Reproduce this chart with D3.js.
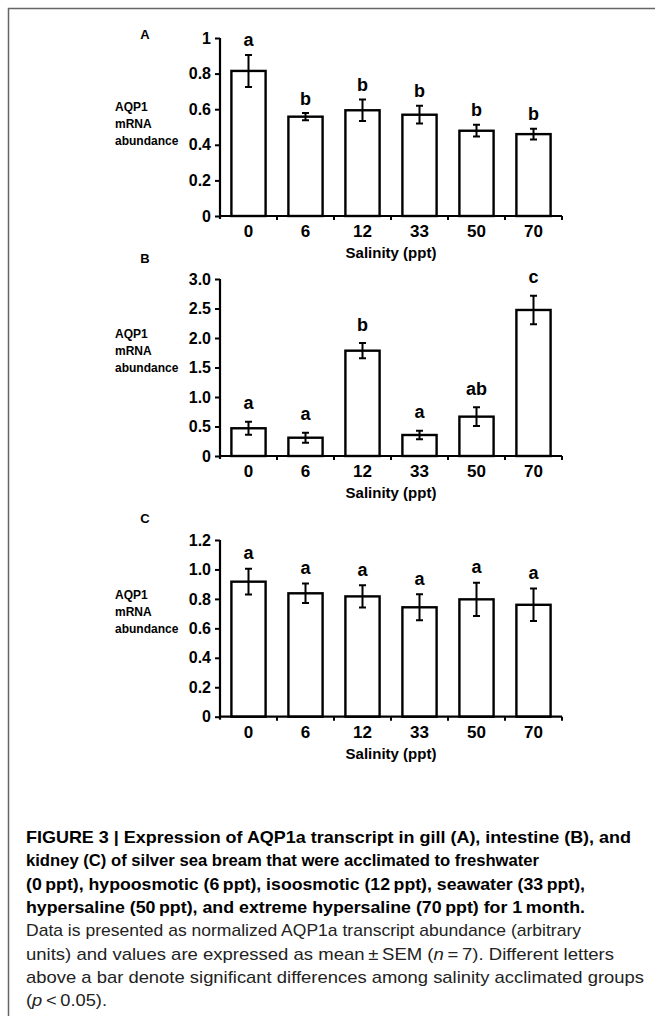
<!DOCTYPE html>
<html>
<head>
<meta charset="utf-8">
<script src="https://cdn.jsdelivr.net/npm/d3@7"></script>
<style>
  html, body { margin: 0; padding: 0; background: #fff; }
</style>
</head>
<body>
<div id="chart-container"></div>
<script>
// Salinity groups (ppt)
const salinity = ["0", "6", "12", "33", "50", "70"];

// Panel A - gill
const gillMean = [0.815, 0.558, 0.594, 0.569, 0.479, 0.46];
const gillSem = [0.09, 0.02, 0.06, 0.05, 0.033, 0.03];
const gillLetters = ["a", "b", "b", "b", "b", "b"];
const gillTicks = [0, 0.2, 0.4, 0.6, 0.8, 1];
const gillTickLabels = ["0", "0.2", "0.4", "0.6", "0.8", "1"];

// Panel B - intestine
const intestineMean = [0.47, 0.31, 1.785, 0.356, 0.667, 2.475];
const intestineSem = [0.11, 0.085, 0.13, 0.07, 0.16, 0.24];
const intestineLetters = ["a", "a", "b", "a", "ab", "c"];
const intestineTicks = [0, 0.5, 1, 1.5, 2, 2.5, 3];
const intestineTickLabels = ["0", "0.5", "1.0", "1.5", "2.0", "2.5", "3.0"];

// Panel C - kidney
const kidneyMean = [0.917, 0.838, 0.817, 0.743, 0.797, 0.76];
const kidneySem = [0.087, 0.066, 0.075, 0.088, 0.113, 0.11];
const kidneyLetters = ["a", "a", "a", "a", "a", "a"];
const kidneyTicks = [0, 0.2, 0.4, 0.6, 0.8, 1.0, 1.2];
const kidneyTickLabels = ["0", "0.2", "0.4", "0.6", "0.8", "1.0", "1.2"];

const yLabelLines = ["AQP1", "mRNA", "abundance"];

const captionLines = [
    { text: "FIGURE 3 | Expression of AQP1a transcript in gill (A), intestine (B), and", bold: true, w: 605 },
    { text: "kidney (C) of silver sea bream that were acclimated to freshwater", bold: true, w: 513 },
    { text: "(0\u2009ppt), hypoosmotic (6\u2009ppt), isoosmotic (12\u2009ppt), seawater (33\u2009ppt),", bold: true, w: 559 },
    { text: "hypersaline (50\u2009ppt), and extreme hypersaline (70\u2009ppt) for 1\u2009month.", bold: true, w: 559 },
    { text: "Data is presented as normalized AQP1a transcript abundance (arbitrary", bold: false, w: 555 },
    { parts: [["units) and values are expressed as mean\u2009\u00b1\u2009SEM (", false], ["n", true], ["\u2009=\u20097). Different letters", false]], bold: false, w: 588 },
    { text: "above a bar denote significant differences among salinity acclimated groups", bold: false, w: 618 },
    { parts: [["(", false], ["p", true], ["\u2009<\u20090.05).", false]], bold: false, w: 81 }
];

const W = 655, H = 1016;
const font = "'Liberation Sans', Arial, sans-serif";

const svg = d3.select("#chart-container")
    .append("svg")
    .attr("width", W)
    .attr("height", H)
    .style("font-family", font);

svg.append("rect").attr("width", W).attr("height", H).attr("fill", "#fff");

// khung viền trái + trên
svg.append("path")
    .attr("d", `M8.5,${H} V8.5 H${W}`)
    .attr("fill", "none")
    .attr("stroke", "#666")
    .attr("stroke-width", 1.5);

// Band scale dùng chung cho 3 panel
const x = d3.scaleBand()
    .domain(salinity)
    .range([220, 562])
    .paddingInner(0.4)
    .paddingOuter(0.2);

const panels = [
    { label: "A", mean: gillMean, sem: gillSem, letters: gillLetters, ticks: gillTicks, tickLabels: gillTickLabels,
      max: 1, y0: 216, y1: 38, labelY: 124, letterGap: 8.5, tagY: 39 },
    { label: "B", mean: intestineMean, sem: intestineSem, letters: intestineLetters, ticks: intestineTicks, tickLabels: intestineTickLabels,
      max: 3, y0: 456, y1: 279, labelY: 351, letterGap: 12.5, tagY: 263 },
    { label: "C", mean: kidneyMean, sem: kidneySem, letters: kidneyLetters, ticks: kidneyTicks, tickLabels: kidneyTickLabels,
      max: 1.2, y0: 716.7, y1: 540, labelY: 612, letterGap: 9.5, tagY: 523 }
];

panels.forEach(p => {
    const y = d3.scaleLinear().domain([0, p.max]).range([p.y0, p.y1]);
    const g = svg.append("g");
    const rows = salinity.map((s, i) => ({ s, m: p.mean[i], e: p.sem[i], l: p.letters[i] }));

    // Bars
    g.selectAll("rect.bar")
        .data(rows)
        .join("rect")
        .attr("class", "bar")
        .attr("x", d => x(d.s))
        .attr("y", d => y(d.m))
        .attr("width", x.bandwidth())
        .attr("height", d => y(0) - y(d.m))
        .attr("fill", "#fff")
        .attr("stroke", "#000")
        .attr("stroke-width", 2.4);

    // Error bars
    const cx = d => x(d.s) + x.bandwidth() / 2;
    g.selectAll("path.err")
        .data(rows)
        .join("path")
        .attr("class", "err")
        .attr("d", d => {
            const t = y(d.m + d.e), b = y(d.m - d.e), c = cx(d);
            return `M${c},${t}V${b}M${c - 3.5},${t}H${c + 3.5}M${c - 3.5},${b}H${c + 3.5}`;
        })
        .attr("fill", "none")
        .attr("stroke", "#000")
        .attr("stroke-width", 2);

    // Significance letters
    g.selectAll("text.sig")
        .data(rows)
        .join("text")
        .attr("class", "sig")
        .attr("x", cx)
        .attr("y", d => y(d.m + d.e) - p.letterGap)
        .attr("text-anchor", "middle")
        .style("font-size", "18px")
        .style("font-weight", "bold")
        .text(d => d.l);

    // Trục y
    const yAxis = g.append("g")
        .attr("transform", "translate(220,0)")
        .call(d3.axisLeft(y)
            .tickValues(p.ticks)
            .tickFormat((d, i) => p.tickLabels[i])
            .tickSize(5)
            .tickSizeOuter(0)
            .tickPadding(4));
    yAxis.select(".domain").attr("stroke-width", 2.2).attr("d", `M0,${p.y0 + 3}V${p.y1}`);
    yAxis.selectAll(".tick line").attr("stroke-width", 2);
    yAxis.selectAll(".tick text")
        .style("font-size", "16px")
        .style("font-weight", "bold")
        .attr("fill", "#000");

    // Trục x
    const xAxis = g.append("g")
        .attr("transform", `translate(0,${p.y0})`)
        .call(d3.axisBottom(x).tickSize(0).tickSizeOuter(0).tickPadding(6));
    xAxis.select(".domain").attr("stroke-width", 2.2).attr("d", "M220,0H562");
    xAxis.selectAll(".tick text")
        .attr("dy", "1em")
        .attr("y", 4)
        .style("font-size", "17px")
        .style("font-weight", "bold")
        .attr("fill", "#000");

    // tick giữa các cột
    g.selectAll("line.sep")
        .data(salinity)
        .join("line")
        .attr("class", "sep")
        .attr("x1", d => x(d) + x.bandwidth() + x.step() * x.paddingInner() / 2)
        .attr("x2", d => x(d) + x.bandwidth() + x.step() * x.paddingInner() / 2)
        .attr("y1", p.y0)
        .attr("y2", p.y0 + 4)
        .attr("stroke", "#000")
        .attr("stroke-width", 2);

    // Tiêu đề trục x
    g.append("text")
        .attr("x", 391)
        .attr("y", p.y0 + 42)
        .attr("text-anchor", "middle")
        .style("font-size", "15px")
        .style("font-weight", "bold")
        .text("Salinity (ppt)");

    // Nhãn trục y
    g.append("text")
        .attr("x", 115)
        .attr("y", p.labelY + 4)
        .style("font-size", "12px")
        .style("font-weight", "bold")
        .selectAll("tspan")
        .data(yLabelLines)
        .join("tspan")
        .attr("x", 115)
        .attr("dy", (d, i) => i === 0 ? -17 : 17)
        .text(d => d);

    // Panel tag
    g.append("text")
        .attr("x", 145)
        .attr("y", p.tagY)
        .attr("text-anchor", "middle")
        .style("font-size", "13px")
        .style("font-weight", "bold")
        .text(p.label);
});

// Chú thích hình
const capFont = "'Liberation Sans Narrow', 'Arial Narrow', 'Liberation Sans', Arial, sans-serif";
captionLines.forEach((c, i) => {
    const t = svg.append("text")
        .attr("x", 26)
        .attr("y", 843 + i * 23.3)
        .attr("textLength", c.w)
        .attr("lengthAdjust", "spacingAndGlyphs")
        .style("font-family", capFont)
        .style("font-size", "17px")
        .style("font-weight", c.bold ? "bold" : "normal")
        .attr("fill", c.bold ? "#000" : "#222");
    if (c.parts) {
        c.parts.forEach(([s, it]) => t.append("tspan").style("font-style", it ? "italic" : "normal").text(s));
    } else {
        t.text(c.text);
    }
});
</script>
</body>
</html>
